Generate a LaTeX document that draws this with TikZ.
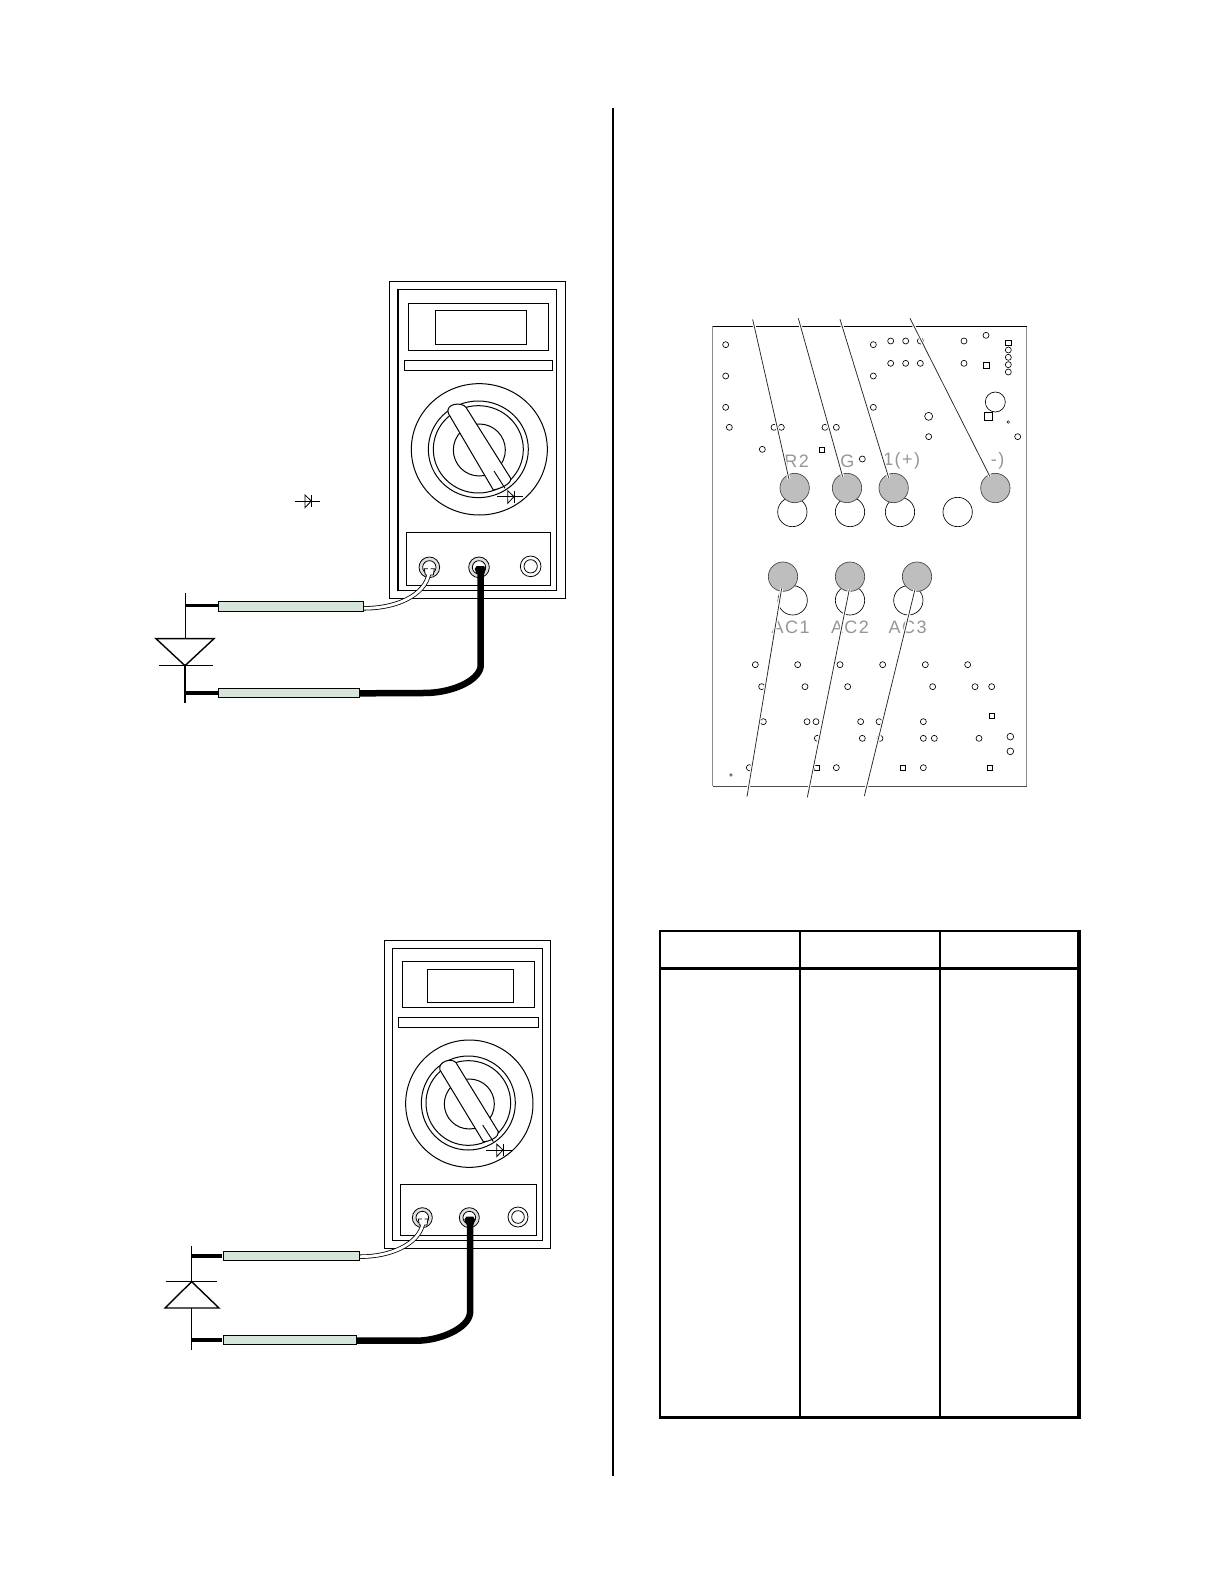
\documentclass[tikz,border=0pt]{standalone}
\usepackage{fontspec}
\setmainfont{Liberation Sans}
\newfontfamily\silkfont{Liberation Sans}[LetterSpace=8]
\definecolor{probegreen}{HTML}{D5E5DA}
\definecolor{padgray}{HTML}{BEBEBE}
\definecolor{silk}{HTML}{969696}
\tikzset{
  thin line/.style={draw=black,line width=0.9pt},
  meter part/.style={draw=black,line width=1pt,fill=white},
  jack ring/.style={draw=black,line width=0.8pt,fill=white},
  jack used/.style={draw=black,line width=0.8pt,fill=black!12},
  probe body/.style={draw=black,line width=0.9pt,fill=probegreen},
  wire black/.style={draw=black,line width=6.5pt},
  wire out/.style={draw=black,line width=4.4pt},
  wire in/.style={draw=white,line width=2.8pt},
  lead stub/.style={draw=black,line width=3.5pt},
  hole/.style={draw=black,line width=0.65pt,fill=white},
  tiny hole/.style={draw=black,line width=0.45pt,fill=white},
  pad/.style={draw=black!70,line width=0.7pt,fill=padgray},
  halo/.style={draw=white,line width=3pt},
  leader/.style={draw=black!85,line width=0.75pt},
  silktext/.style={text=silk,font=\silkfont\fontsize{18}{18}\selectfont,inner sep=0pt},
  grid thin/.style={draw=black,line width=1.5pt},
  grid thick/.style={draw=black,line width=3pt},
  zoomed/.style={x=0.33333pt,y=-0.33333pt}
}
\newcommand{\diodemark}[3]{%
  \draw[thin line,line width=0.8pt] (#1-31,#2) -- (#1+46,#2);
  \draw[thin line,line width=0.8pt] (#1,#2-18) -- (#1,#2+20) -- (#1+19,#2) -- cycle;
  \draw[thin line,line width=0.8pt] (#1+19,#2-18) -- (#1+19,#2+18);
}
\begin{document}
\begin{tikzpicture}[x=1pt,y=-1pt]
\useasboundingbox (0,0) rectangle (1224,1584);
\fill[white] (0,0) rectangle (1224,1584);

% divider
\draw[draw=black,line width=2.2pt] (613,108) coordinate (dtop) -- (613,1476) coordinate (dbot);

% ---------- upper meter ----------
\begin{scope}[shift={(140pt,-270pt)},zoomed]
\draw[meter part] (748,35) rectangle (1277,985);
\draw[meter part] (773,58) rectangle (1250,962);
\draw[draw=black,line width=1.8pt] (774,58) -- (774,962);
\draw[meter part] (805,100) rectangle (1225,241);
\draw[meter part] (886,121) rectangle (1160,223);
\draw[meter part] (793,271) rectangle (1237,301);
\draw[meter part] (1018,538) ellipse [x radius=204,y radius=197];
\draw[meter part] (1015,538) ellipse [x radius=150,y radius=145];
\draw[meter part] (1015,538) ellipse [x radius=135,y radius=131];
\draw[meter part] (1018,540) circle [radius=78];
\draw[meter part] (1060,660) -- (925,430) .. controls (915,400) and (965,395) .. (978,412) -- (1112,625) .. controls (1115,640) and (1085,655) .. (1060,660) -- cycle;
\draw[thin line] (1062,603) -- (1095,655);
\diodemark{1103}{680}{}
\diodemark{495}{693}{}
\draw[meter part] (799,787) rectangle (1232,946);
\draw[jack used] (868,892) circle [radius=31];
\draw[jack ring] (868,892) circle [radius=20];
\draw[jack used] (1017,892) circle [radius=31];
\draw[jack ring] (1017,892) circle [radius=20];
\draw[jack ring] (1172,889) circle [radius=31];
\draw[jack ring] (1172,889) circle [radius=20];
\coordinate (ja) at (868,896);
\coordinate (jb) at (1022,898);
\coordinate (pa) at (670,1015);
\coordinate (pb) at (659,1270);
\draw[wire out] (ja) .. controls (868,965) and (785,1015) .. (pa);
\draw[draw=black,fill=white,line width=0.8pt] (853,896) -- (883,896) -- (880,915) -- (856,915) -- cycle;
\draw[wire in] (868,890) -- (ja) .. controls (868,965) and (785,1015) .. (pa);
\draw[wire black] (jb) -- (1022,1190) .. controls (1015,1235) and (930,1270) .. (850,1269) -- (pb);
\fill[black] (1004,897) -- (1010,888) -- (1032,888) -- (1037,897) -- (1033,912) -- (1010,912) -- cycle;
\draw[probe body] (235,994) rectangle (670,1024);
\draw[probe body] (235,1256) rectangle (659,1282);
\draw[lead stub] (137,1007) -- (235,1007);
\draw[lead stub] (135,1269) -- (235,1269);
\draw[draw=black,line width=1.4pt] (137,968) -- (137,1106);
\draw[draw=black,line width=1.4pt] (48,1106) -- (222,1106) -- (135,1187) -- cycle;
\draw[draw=black,line width=1.4pt] (57,1187) -- (218,1187);
\draw[draw=black,line width=1.4pt] (135,1187) -- (135,1298);
\end{scope}

% ---------- lower meter ----------
\begin{scope}[shift={(140pt,-920pt)},zoomed]
\draw[meter part] (733,62) rectangle (1232,985);
\draw[meter part] (757,85) rectangle (1208,962);
\draw[meter part] (787,124) rectangle (1184,262);
\draw[meter part] (862,148) rectangle (1121,247);
\draw[meter part] (775,292) rectangle (1196,323);
\draw[meter part] (988,551) circle [radius=191];
\draw[meter part] (985,549) circle [radius=141];
\draw[meter part] (985,549) circle [radius=127];
\draw[meter part] (988,552) circle [radius=75];
\draw[meter part] (1030,665) -- (900,450) .. controls (892,425) and (935,412) .. (948,428) -- (1075,635) .. controls (1078,650) and (1050,665) .. (1030,665) -- cycle;
\draw[thin line] (1028,615) -- (1060,665);
\diodemark{1070}{690}{}
\draw[meter part] (781,793) rectangle (1190,946);
\draw[jack used] (847,893) circle [radius=30];
\draw[jack ring] (847,893) circle [radius=19];
\draw[jack used] (988,893) circle [radius=30];
\draw[jack ring] (988,893) circle [radius=19];
\draw[jack ring] (1134,891) circle [radius=30];
\draw[jack ring] (1134,891) circle [radius=19];
\coordinate (jc) at (850,897);
\coordinate (jd) at (990,900);
\coordinate (pc) at (659,1010);
\coordinate (pd) at (650,1262);
\draw[wire out] (jc) .. controls (850,960) and (770,1010) .. (pc);
\draw[draw=black,fill=white,line width=0.8pt] (835,897) -- (864,897) -- (861,915) -- (838,915) -- cycle;
\draw[wire in] (850,892) -- (jc) .. controls (850,960) and (770,1010) .. (pc);
\draw[wire black] (jd) -- (990,1180) .. controls (985,1225) and (900,1262) .. (830,1262) -- (pd);
\fill[black] (973,899) -- (979,890) -- (1000,890) -- (1005,899) -- (1001,914) -- (979,914) -- cycle;
\draw[probe body] (250,994) rectangle (659,1021);
\draw[probe body] (250,1246) rectangle (650,1273);
\draw[lead stub] (155,1008) -- (245,1008);
\draw[lead stub] (155,1260) -- (245,1260);
\draw[draw=black,line width=1.4pt] (155,978) -- (155,1085);
\draw[draw=black,line width=1.4pt] (77,1084) -- (230,1084);
\draw[draw=black,line width=1.4pt] (155,1085) -- (75,1164) -- (237,1164) -- cycle;
\draw[draw=black,line width=1.4pt] (155,1164) -- (155,1290);
\end{scope}

% ---------- circuit board ----------
\draw[draw=black!45,line width=1pt] (712.7,326) -- (712.7,786);
\draw[draw=black!45,line width=1pt] (1026.7,326) -- (1026.7,786);
\draw[draw=black,line width=0.9pt] (712.7,326) -- (1026.7,326);
\draw[draw=black!70,line width=0.9pt] (712.7,786) -- (1026.7,786);

% upper half of board, in crop units
\begin{scope}[shift={(700pt,-310pt)},zoomed]
\foreach \a/\b in {77/104,77/198,77/292,88/352,222/352,244/352,187/418,375/352,409/352,520/104,520/198,520/292,572/93,617/93,661/93,572/160,617/160,661/160,792/93,858/76,792/160,925/120,925/142,925/164,925/186,487/447,686/380,953/380}
  \draw[hole] (\a,\b) circle [radius=9];
\draw[tiny hole] (925,336) circle [radius=4];
\draw[hole] (686,319) circle [radius=12];
\draw[hole] (886,276) circle [radius=30];
\draw[hole] (917,90) rectangle (933,106);
\draw[hole] (850,156) rectangle (868,174);
\draw[hole] (357,411) rectangle (373,427);
\draw[hole] (852,306) rectangle (877,332);
\foreach \a in {277,450,600,773}
  \draw[hole] (\a,606) circle [radius=44];
\node[silktext] (r2) at (290,454) {R2};
\node[silktext] (g1) at (442,454) {G};
\node[silktext] (plus) at (605,454) {1(+)};
\node[silktext] (minus) at (893,454) {-)};
\foreach \a in {284,441,581,886}
  \draw[pad] (\a,534) circle [radius=44];
\coordinate (a1) at (158,28); \coordinate (a2) at (267,508);
\coordinate (b1) at (295,25); \coordinate (b2) at (428,500);
\coordinate (c1) at (420,28); \coordinate (c2) at (566,503);
\coordinate (d1) at (630,25); \coordinate (d2) at (870,500);
\foreach \s/\e in {a1/a2,b1/b2,c1/c2,d1/d2}{
  \draw[halo] (\s) -- (\e);
  \draw[leader] (\s) -- (\e);
}
\end{scope}

% lower half of board, in crop units
\begin{scope}[shift={(700pt,-550pt)},zoomed]
\foreach \a/\b in {166/344,293/344,420/344,548/344,676/344,803/344,185/410,315/410,443/410,698/410,825/410,875/410,190/515,321/515,348/515,482/515,537/515,670/515,352/565,487/565,540/565,670/565,703/565,837/565,148/653,409/653,670/653}
  \draw[hole] (\a,\b) circle [radius=9];
\foreach \b in {560,604}
  \draw[hole] (931,\b) circle [radius=10];
\draw[tiny hole] (93,675) circle [radius=4];
\foreach \a/\b in {875/498,350/653,609/653,869/653}
  \draw[hole] (\a-8,\b-8) rectangle (\a+8,\b+8);
\foreach \a in {278,450,625}
  \draw[hole] (\a,151) circle [radius=44];
\node[silktext] (ac1) at (272,232) {AC1};
\node[silktext] (ac2) at (450,232) {AC2};
\node[silktext] (ac3) at (623,232) {AC3};
\foreach \a in {249,450,651}
  \draw[pad] (\a,80) circle [radius=44];
\coordinate (e1) at (245,115); \coordinate (e2) at (141,740);
\coordinate (f1) at (448,118); \coordinate (f2) at (322,742);
\coordinate (g2) at (645,118); \coordinate (g3) at (493,738);
\foreach \s/\e in {e1/e2,f1/f2,g2/g3}{
  \draw[halo] (\s) -- (\e);
  \draw[leader] (\s) -- (\e);
}
\end{scope}

% ---------- table ----------
\draw[grid thin] (660,931) -- (1079,931);
\draw[grid thin] (660,930.3) -- (660,1418);
\draw[grid thin] (800,931) -- (800,1417);
\draw[grid thin] (940,931) -- (940,1417);
\draw[draw=black,line width=4pt] (1079,930.3) -- (1079,1419);
\draw[grid thick] (660,968) -- (1079,968);
\draw[grid thick] (659,1417.5) -- (1081,1417.5);
\end{tikzpicture}
\end{document}
